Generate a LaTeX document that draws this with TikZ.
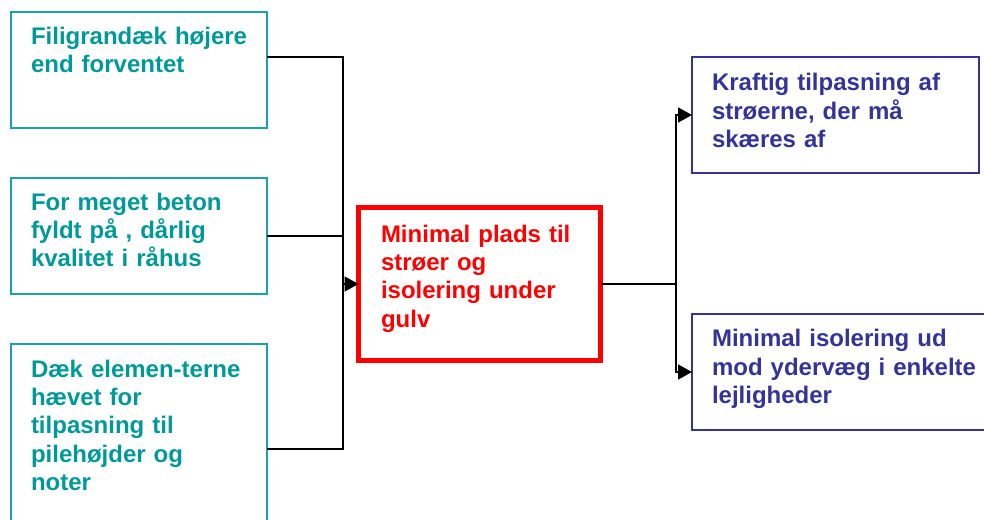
\documentclass[tikz,border=0pt]{standalone}
\usepackage{fontspec}
\setmainfont{Liberation Sans}
\usetikzlibrary{arrows.meta}
\definecolor{tealc}{RGB}{0,153,153}
\definecolor{tealb}{RGB}{26,163,163}
\definecolor{bluec}{RGB}{51,51,153}
\definecolor{redc}{RGB}{255,0,0}
\begin{document}
\begin{tikzpicture}[x=1pt,y=-1pt,
  basebox/.style={inner sep=0pt, outer sep=0pt, anchor=north west},
  tealbox/.style={basebox, draw=tealb, line width=2pt, minimum width=256pt, minimum height=116pt},
  bluebox/.style={basebox, draw=bluec, line width=2pt, minimum width=287pt, minimum height=116pt},
  redbox/.style={basebox, draw=redc, line width=5pt, minimum width=242pt, minimum height=153pt},
  txt/.style={anchor=north west, inner sep=0pt, outer sep=0pt, align=left, text width=275pt,
    font=\fontsize{24}{28.3}\selectfont\bfseries},
  conn/.style={line width=1.8pt, draw=black},
  arr/.style={conn, -{Triangle[length=14pt,width=15pt]}}
]
\useasboundingbox (0,0) rectangle (984,519);
\clip (0,0) rectangle (984,519);
% left boxes
\node[tealbox] (b1) at (11,12) {};
\node[tealbox] (b2) at (11,178) {};
\node[tealbox, minimum height=210pt] (b3) at (11,344) {};
% centre box
\node[redbox] (c) at (358.5,207.5) {};
% right boxes
\node[bluebox] (r1) at (692,57) {};
\node[bluebox, minimum width=300pt] (r2) at (692,314) {};
% texts
\node[txt, text=tealc] (t1) at (31,27) {Filigrandæk højere\\end forventet};
\node[txt, text=tealc] (t2) at (31,193) {For meget beton\\fyldt på , dårlig\\kvalitet i råhus};
\node[txt, text=tealc] (t3) at (31,360) {Dæk elemen-terne\\hævet for\\tilpasning til\\pilehøjder og\\noter};
\node[txt, text=redc] (tc) at (381,225) {Minimal plads til\\strøer og\\isolering under\\gulv};
\node[txt, text=bluec] (tr1) at (712,73.5) {Kraftig tilpasning af\\strøerne, der må\\skæres af};
\node[txt, text=bluec] (tr2) at (712,329.5) {Minimal isolering ud\\mod ydervæg i enkelte\\lejligheder};
% connectors
\coordinate (jl) at (343,284);
\coordinate (jr) at (676,284);
\draw[conn] ([yshift=13pt]b1.east) -| (jl);
\draw[conn] (b3.east) -| (jl);
\draw[conn] (b2.east) -- (b2.east -| jl);
\draw[arr] (jl) -- (c.west);
\draw[conn] (c.east) -- (jr);
\draw[arr] (jr) |- (r1.west);
\draw[arr] (jr) |- (r2.west);
\end{tikzpicture}
\end{document}
